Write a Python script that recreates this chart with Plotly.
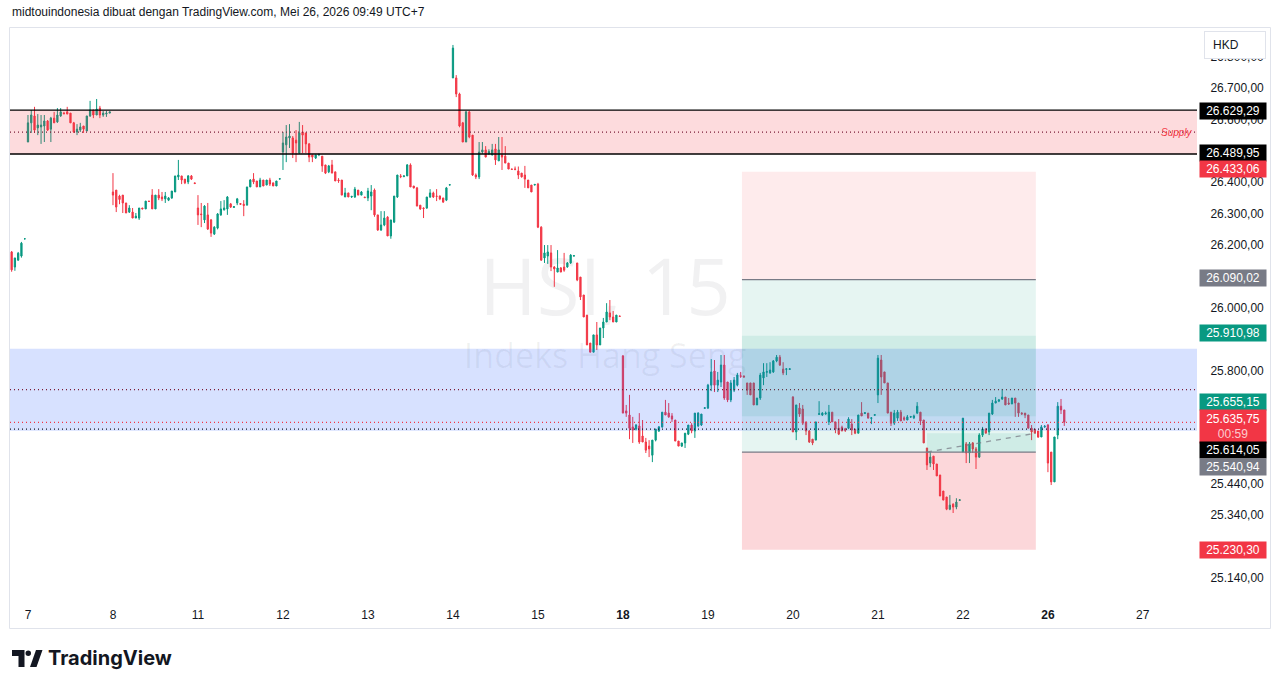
import plotly.graph_objects as go

# ---------------- data ----------------
day_labels = ["7", "8", "11", "12", "13", "14", "15", "<b>18</b>", "19", "20", "21", "22", "<b>26</b>", "27"]
day_tick_pos = [5, 31, 57, 83, 109, 135, 161, 187, 213, 239, 265, 291, 317, 346]

opens = [
    26178, 26130, 26152, 26165, 26220,
    # 7
    26528, 26589, 26611, 26573, 26576, 26579, 26595, 26569, 26604, 26592, 26611, 26620, 26624, 26620, 26589, 26560, 26566, 26579, 26563, 26611, 26630, 26614, 26636, 26614, 26617, 26620,
    # 8
    26369, 26375, 26356, 26359, 26334, 26305, 26305, 26286, 26286, 26318, 26315, 26340, 26359, 26315, 26359, 26353, 26347, 26343, 26350, 26369, 26417, 26420, 26410, 26401, 26420, 26398,
    # 11
    26318, 26299, 26280, 26296, 26280, 26235, 26254, 26296, 26312, 26315, 26331, 26320, 26334, 26332, 26330, 26327, 26385, 26410, 26404, 26385, 26407, 26391, 26407, 26398, 26388, 26410,
    # 12
    26496, 26519, 26541, 26541, 26534, 26493, 26560, 26557, 26522, 26487, 26477, 26487, 26483, 26455, 26433, 26455, 26433, 26407, 26407, 26353, 26366, 26353, 26353, 26375, 26359, 26353,
    # 13
    26350, 26356, 26375, 26296, 26248, 26264, 26289, 26229, 26273, 26353, 26420, 26418, 26420, 26455, 26388, 26382, 26327, 26318, 26318, 26353, 26366, 26356, 26356, 26350, 26343, 26391,
    # 14
    26732, 26732, 26681, 26589, 26528, 26624, 26550, 26423, 26417, 26496, 26503, 26490, 26487, 26506, 26468, 26487, 26483, 26461, 26442, 26442, 26436, 26429, 26423, 26407, 26391, 26391,
    # 15
    26394, 26257, 26159, 26165, 26175, 26130, 26114, 26127, 26130, 26130, 26143, 26165, 26143, 26098, 26041, 25977, 25888, 25859, 25914, 25882, 25936, 25955, 25984, 25971, 25955, 25974,
    # 18
    25847, 25672, 25659, 25621, 25614, 25624, 25592, 25573, 25560, 25531, 25579, 25608, 25621, 25668, 25665, 25656, 25643, 25576, 25560, 25570, 25598, 25627, 25608, 25624, 25627, 25680,
    # 19
    25681, 25754, 25799, 25754, 25764, 25818, 25764, 25707, 25738, 25754, 25784, 25783, 25761, 25761, 25761, 25691, 25713, 25777, 25795, 25793, 25796, 25831, 25843, 25805, 25804, 25804,
    # 20
    25716, 25605, 25681, 25678, 25637, 25608, 25582, 25579, 25661, 25659, 25662, 25637, 25668, 25637, 25617, 25620, 25615, 25617, 25630, 25614, 25601, 25665, 25664, 25665, 25648, 25658,
    # 21
    25723, 25834, 25796, 25761, 25668, 25633, 25649, 25668, 25650, 25643, 25652, 25650, 25665, 25668, 25643, 25554, 25506, 25528, 25503, 25468, 25417, 25398, 25359, 25375, 25366, 25387,
    # 22
    25541, 25567, 25538, 25570, 25551, 25525, 25595, 25614, 25605, 25662, 25697, 25703, 25710, 25716, 25697, 25694, 25713, 25697, 25665, 25665, 25659, 25617, 25614, 25608, 25589, 25621,
    # 26
    25627, 25541, 25446, 25595, 25687, 25675,
]
highs = [
    26181, 26159, 26178, 26210, 26222,
    26614, 26630, 26640, 26617, 26614, 26614, 26598, 26608, 26624, 26636, 26636, 26624, 26640, 26620, 26592, 26585, 26589, 26579, 26611, 26659, 26630, 26665, 26643, 26627, 26627, 26624,
    26429, 26375, 26360, 26359, 26334, 26327, 26318, 26302, 26318, 26318, 26340, 26340, 26378, 26359, 26378, 26369, 26369, 26353, 26372, 26420, 26471, 26420, 26410, 26423, 26423, 26398,
    26359, 26334, 26327, 26334, 26283, 26260, 26302, 26340, 26343, 26356, 26334, 26324, 26350, 26333, 26343, 26385, 26410, 26429, 26404, 26414, 26407, 26407, 26414, 26398, 26404, 26412,
    26560, 26582, 26585, 26547, 26566, 26592, 26582, 26557, 26525, 26487, 26487, 26490, 26483, 26455, 26455, 26471, 26433, 26413, 26407, 26382, 26366, 26356, 26385, 26375, 26372, 26353,
    26382, 26391, 26380, 26296, 26308, 26308, 26292, 26280, 26356, 26423, 26426, 26422, 26458, 26460, 26388, 26385, 26327, 26320, 26353, 26378, 26370, 26378, 26358, 26350, 26385, 26393,
    26837, 26741, 26685, 26592, 26627, 26627, 26550, 26428, 26528, 26528, 26515, 26505, 26522, 26522, 26544, 26544, 26515, 26461, 26443, 26450, 26450, 26429, 26452, 26407, 26391, 26394,
    26398, 26260, 26200, 26200, 26200, 26133, 26184, 26130, 26175, 26146, 26171, 26168, 26143, 26098, 26041, 25977, 25888, 25914, 25955, 25936, 25968, 26015, 26025, 25990, 25977, 25975,
    25850, 25691, 25723, 25653, 25630, 25665, 25643, 25586, 25579, 25579, 25614, 25624, 25668, 25707, 25697, 25665, 25643, 25576, 25570, 25601, 25627, 25633, 25665, 25668, 25662, 25684,
    25758, 25837, 25834, 25796, 25850, 25850, 25764, 25770, 25780, 25793, 25796, 25785, 25761, 25761, 25761, 25713, 25793, 25824, 25824, 25827, 25834, 25850, 25850, 25827, 25807, 25807,
    25719, 25691, 25697, 25691, 25637, 25611, 25582, 25637, 25703, 25668, 25670, 25691, 25668, 25637, 25646, 25625, 25618, 25652, 25646, 25614, 25659, 25700, 25668, 25665, 25651, 25661,
    25850, 25850, 25796, 25761, 25668, 25675, 25675, 25675, 25655, 25659, 25656, 25660, 25700, 25668, 25643, 25554, 25541, 25528, 25503, 25468, 25417, 25398, 25404, 25378, 25394, 25390,
    25649, 25573, 25573, 25573, 25557, 25601, 25621, 25617, 25665, 25707, 25716, 25710, 25742, 25716, 25713, 25713, 25713, 25697, 25668, 25665, 25659, 25627, 25614, 25608, 25627, 25627,
    25630, 25541, 25589, 25700, 25710, 25675,
]
lows = [
    26115, 26118, 26150, 26160, 26218,
    26528, 26557, 26557, 26550, 26522, 26528, 26563, 26528, 26589, 26589, 26608, 26617, 26617, 26589, 26557, 26550, 26560, 26557, 26563, 26608, 26604, 26614, 26604, 26608, 26608, 26620,
    26327, 26305, 26330, 26302, 26302, 26302, 26286, 26286, 26280, 26315, 26315, 26337, 26315, 26315, 26343, 26340, 26334, 26340, 26347, 26369, 26407, 26394, 26394, 26394, 26407, 26394,
    26264, 26257, 26270, 26248, 26226, 26232, 26250, 26293, 26310, 26296, 26318, 26318, 26327, 26329, 26292, 26327, 26385, 26394, 26385, 26385, 26388, 26391, 26388, 26388, 26388, 26409,
    26439, 26464, 26509, 26477, 26464, 26490, 26493, 26493, 26464, 26464, 26474, 26483, 26433, 26426, 26429, 26429, 26404, 26398, 26359, 26353, 26353, 26350, 26350, 26359, 26359, 26350,
    26340, 26311, 26290, 26245, 26245, 26260, 26229, 26220, 26270, 26350, 26413, 26416, 26420, 26385, 26380, 26324, 26312, 26286, 26315, 26350, 26350, 26340, 26343, 26334, 26340, 26390,
    26732, 26671, 26575, 26528, 26528, 26540, 26420, 26410, 26410, 26490, 26480, 26488, 26485, 26455, 26468, 26439, 26461, 26442, 26440, 26438, 26410, 26415, 26382, 26382, 26369, 26390,
    26254, 26150, 26143, 26140, 26117, 26067, 26114, 26114, 26115, 26128, 26140, 26164, 26085, 26025, 25971, 25882, 25859, 25859, 25866, 25882, 25904, 25955, 25961, 25955, 25955, 25972,
    25665, 25653, 25582, 25570, 25610, 25567, 25573, 25538, 25525, 25509, 25575, 25605, 25618, 25659, 25650, 25637, 25576, 25560, 25557, 25554, 25595, 25601, 25586, 25620, 25624, 25679,
    25678, 25735, 25732, 25732, 25748, 25707, 25700, 25700, 25732, 25750, 25777, 25778, 25723, 25723, 25691, 25691, 25707, 25754, 25780, 25790, 25793, 25827, 25815, 25786, 25786, 25803,
    25605, 25579, 25653, 25627, 25595, 25570, 25563, 25579, 25659, 25656, 25660, 25627, 25637, 25601, 25595, 25608, 25605, 25614, 25595, 25598, 25601, 25656, 25662, 25649, 25630, 25657,
    25697, 25723, 25761, 25665, 25624, 25627, 25640, 25640, 25640, 25643, 25650, 25646, 25662, 25627, 25570, 25484, 25493, 25484, 25465, 25401, 25388, 25356, 25356, 25347, 25359, 25386,
    25541, 25506, 25506, 25538, 25487, 25522, 25589, 25601, 25595, 25659, 25697, 25700, 25707, 25691, 25691, 25694, 25653, 25653, 25659, 25649, 25617, 25579, 25601, 25586, 25589, 25618,
    25477, 25436, 25446, 25582, 25662, 25624,
]
closes = [
    26121, 26159, 26174, 26206, 26220,
    26589, 26614, 26566, 26582, 26582, 26595, 26566, 26604, 26589, 26614, 26624, 26618, 26617, 26589, 26560, 26569, 26576, 26569, 26611, 26630, 26614, 26633, 26614, 26620, 26620, 26624,
    26359, 26321, 26345, 26334, 26302, 26318, 26286, 26292, 26318, 26315, 26340, 26339, 26315, 26359, 26350, 26347, 26356, 26350, 26372, 26420, 26423, 26407, 26398, 26420, 26410, 26396,
    26296, 26297, 26324, 26251, 26238, 26257, 26299, 26315, 26318, 26353, 26321, 26322, 26347, 26330, 26326, 26385, 26407, 26401, 26385, 26407, 26388, 26407, 26394, 26388, 26404, 26411,
    26525, 26544, 26547, 26493, 26525, 26557, 26550, 26522, 26480, 26480, 26487, 26489, 26452, 26429, 26452, 26429, 26404, 26405, 26359, 26366, 26353, 26355, 26378, 26359, 26369, 26351,
    26372, 26369, 26296, 26248, 26264, 26286, 26229, 26280, 26356, 26423, 26418, 26420, 26455, 26385, 26382, 26324, 26315, 26316, 26353, 26366, 26353, 26355, 26347, 26337, 26382, 26392,
    26827, 26681, 26579, 26528, 26624, 26544, 26423, 26417, 26496, 26503, 26480, 26498, 26503, 26471, 26503, 26480, 26461, 26442, 26441, 26441, 26423, 26417, 26410, 26382, 26369, 26393,
    26257, 26152, 26175, 26178, 26130, 26124, 26127, 26114, 26120, 26143, 26168, 26166, 26089, 26035, 25971, 25882, 25859, 25914, 25882, 25936, 25955, 25987, 25971, 25955, 25977, 25973,
    25665, 25665, 25617, 25611, 25627, 25573, 25573, 25547, 25551, 25579, 25614, 25621, 25668, 25659, 25653, 25646, 25576, 25560, 25570, 25601, 25627, 25608, 25665, 25665, 25662, 25682,
    25754, 25796, 25754, 25770, 25818, 25713, 25707, 25761, 25770, 25786, 25782, 25780, 25738, 25723, 25691, 25713, 25786, 25796, 25797, 25802, 25831, 25843, 25818, 25793, 25806, 25806,
    25605, 25691, 25662, 25633, 25608, 25573, 25570, 25637, 25663, 25665, 25665, 25668, 25637, 25614, 25598, 25608, 25610, 25646, 25611, 25601, 25659, 25656, 25666, 25649, 25650, 25660,
    25840, 25780, 25761, 25665, 25633, 25665, 25668, 25640, 25645, 25653, 25654, 25656, 25687, 25640, 25570, 25500, 25525, 25503, 25465, 25401, 25388, 25359, 25372, 25366, 25382, 25389,
    25649, 25538, 25567, 25551, 25525, 25595, 25614, 25601, 25665, 25697, 25703, 25707, 25716, 25691, 25694, 25713, 25697, 25665, 25663, 25659, 25617, 25605, 25601, 25589, 25621, 25623,
    25506, 25446, 25589, 25687, 25675, 25635.75,
]

# drawn levels
supply_top, supply_bot = 26629.29, 26489.95
demand_top, demand_bot = 25870.0, 25609.0
short_stop, short_entry, short_target = 26433.06, 26090.02, 25655.15
long_target, long_entry, long_stop = 25910.98, 25540.94, 25230.30
last_price, prev_close = 25635.75, 25614.05
tool_x0, tool_x1, trigger_x = 223.4, 313.3, 280.0
tool_last_close = 25601.0

# axis ticks (the ones fully hidden behind the price labels are left out)
price_ticks = [26800, 26700, 26600, 26400, 26300, 26200, 26000, 25800,
               25440, 25340, 25140]

# ---------------- figure ----------------
W, H = 1281, 688
LM, RM, TM, BM = 10, 84, 28, 88
PW, PH = W - LM - RM, H - TM - BM


def px(x):
    return (x - LM) / PW


def py(y):
    return (H - BM - y) / PH


UP, DN = "#089981", "#F23645"
TXT = "#131722"
FONT = "Liberation Sans"

x_idx = list(range(len(opens)))

fig = go.Figure(go.Candlestick(
    x=x_idx, open=opens, high=highs, low=lows, close=closes,
    increasing=dict(line=dict(color=UP, width=1), fillcolor=UP),
    decreasing=dict(line=dict(color=DN, width=1), fillcolor=DN),
    whiskerwidth=0, hoverinfo="skip",
))

fig.update_layout(
    width=W, height=H, margin=dict(l=LM, r=RM, t=TM, b=BM, pad=0),
    paper_bgcolor="white", plot_bgcolor="white", showlegend=False,
    separators=",.", boxgap=0.45,
    font=dict(family=FONT, size=12, color=TXT),
    xaxis=dict(range=[-0.5, 362.6], rangeslider=dict(visible=False), showgrid=False,
               zeroline=False, showline=False, tickmode="array", tickvals=day_tick_pos,
               ticktext=day_labels, ticks="outside", ticklen=4, tickcolor="rgba(0,0,0,0)",
               tickfont=dict(family=FONT, size=12, color=TXT), fixedrange=True),
    yaxis=dict(range=[25070, 26891], side="right", showgrid=False, zeroline=False,
               showline=False, tickmode="array", tickvals=price_ticks, tickformat=",.2f",
               ticks="outside", ticklen=10, tickcolor="rgba(0,0,0,0)",
               tickfont=dict(family=FONT, size=12, color=TXT), fixedrange=True),
)

shapes = []
# watermark (below candles)
shapes.append(dict(type="rect", xref="paper", yref="paper", x0=px(380), x1=px(830),
                   y0=py(330), y1=py(250), line=dict(width=0), fillcolor="rgba(0,0,0,0)",
                   layer="below",
                   label=dict(text="HSI, 15", textposition="middle center",
                              font=dict(family="Open Sans", size=78, color="rgba(19,23,34,0.06)"))))
shapes.append(dict(type="rect", xref="paper", yref="paper", x0=px(380), x1=px(830),
                   y0=py(380), y1=py(334), line=dict(width=0), fillcolor="rgba(0,0,0,0)",
                   layer="below",
                   label=dict(text="Indeks Hang Seng", textposition="middle center",
                              font=dict(family="Open Sans", size=34, color="rgba(19,23,34,0.06)"))))

# supply zone
shapes.append(dict(type="rect", xref="paper", yref="y", x0=0, x1=1, y0=supply_bot, y1=supply_top,
                   line=dict(width=0), fillcolor="rgba(242,54,69,0.18)", layer="above"))
for lvl in (supply_top, supply_bot):
    shapes.append(dict(type="line", xref="paper", yref="y", x0=0, x1=1, y0=lvl, y1=lvl,
                       line=dict(color="#000000", width=1.3), layer="above"))
shapes.append(dict(type="line", xref="paper", yref="y", x0=0, x1=1,
                   y0=(supply_top + supply_bot) / 2, y1=(supply_top + supply_bot) / 2,
                   line=dict(color="#7a1b36", width=1.3, dash="1px,3px"), layer="above"))

# demand (blue) zone
shapes.append(dict(type="rect", xref="paper", yref="y", x0=0, x1=1, y0=demand_bot, y1=demand_top,
                   line=dict(width=0), fillcolor="rgba(41,98,255,0.19)", layer="above"))
shapes.append(dict(type="line", xref="paper", yref="y", x0=0, x1=1,
                   y0=(demand_top + demand_bot) / 2, y1=(demand_top + demand_bot) / 2,
                   line=dict(color="#7a1b36", width=1.3, dash="1px,3px"), layer="above"))

# short position tool
shapes.append(dict(type="rect", xref="x", yref="y", x0=tool_x0, x1=tool_x1, y0=short_entry, y1=short_stop,
                   line=dict(width=0), fillcolor="rgba(242,54,69,0.10)", layer="above"))
shapes.append(dict(type="rect", xref="x", yref="y", x0=tool_x0, x1=tool_x1, y0=short_target, y1=short_entry,
                   line=dict(width=0), fillcolor="rgba(8,153,129,0.10)", layer="above"))
# long position tool
shapes.append(dict(type="rect", xref="x", yref="y", x0=tool_x0, x1=tool_x1, y0=long_entry, y1=long_target,
                   line=dict(width=0), fillcolor="rgba(8,153,129,0.10)", layer="above"))
shapes.append(dict(type="rect", xref="x", yref="y", x0=tool_x0, x1=tool_x1, y0=long_stop, y1=long_entry,
                   line=dict(width=0), fillcolor="rgba(242,54,69,0.20)", layer="above"))
shapes.append(dict(type="rect", xref="x", yref="y", x0=trigger_x, x1=tool_x1, y0=long_entry, y1=tool_last_close,
                   line=dict(width=0), fillcolor="rgba(8,153,129,0.10)", layer="above"))
for lvl in (short_entry, long_entry):
    shapes.append(dict(type="line", xref="x", yref="y", x0=tool_x0, x1=tool_x1, y0=lvl, y1=lvl,
                       line=dict(color="#787b86", width=1.3), layer="above"))
shapes.append(dict(type="line", xref="x", yref="y", x0=trigger_x, x1=tool_x1, y0=long_entry,
                   y1=tool_last_close, line=dict(color="rgba(120,123,134,0.75)", width=1.3, dash="5px,5px"),
                   layer="above"))

# price lines
shapes.append(dict(type="line", xref="paper", yref="y", x0=0, x1=1, y0=last_price, y1=last_price,
                   line=dict(color=DN, width=1.3, dash="1px,3px"), layer="above"))
shapes.append(dict(type="line", xref="paper", yref="y", x0=0, x1=1, y0=prev_close, y1=prev_close,
                   line=dict(color="#131722", width=1.3, dash="1px,3px"), layer="above"))

# container border
shapes.append(dict(type="rect", xref="paper", yref="paper", x0=px(9.5), x1=px(1270.5),
                   y0=py(628.5), y1=py(27.5), line=dict(color="#e0e3eb", width=1),
                   fillcolor="rgba(0,0,0,0)", layer="above"))

# TradingView logo
logo_col = "#131722"
shapes.append(dict(type="path", xref="paper", yref="paper",
                   path="M {} {} L {} {} L {} {} L {} {} L {} {} L {} {} Z".format(
                       px(12), py(650), px(24.5), py(650), px(24.5), py(667),
                       px(18.5), py(667), px(18.5), py(656), px(12), py(656)),
                   fillcolor=logo_col, line=dict(width=0)))
shapes.append(dict(type="circle", xref="paper", yref="paper", x0=px(25.5), x1=px(31), y0=py(656),
                   y1=py(650.5), fillcolor=logo_col, line=dict(width=0)))
shapes.append(dict(type="path", xref="paper", yref="paper",
                   path="M {} {} L {} {} L {} {} L {} {} Z".format(
                       px(30), py(667), px(36), py(650), px(42.5), py(650), px(36.5), py(667)),
                   fillcolor=logo_col, line=dict(width=0)))

fig.update_layout(shapes=shapes)

ann = []
# header
ann.append(dict(xref="paper", yref="paper", x=px(10), y=py(12), xanchor="left", yanchor="middle",
                text="midtouindonesia dibuat dengan TradingView.com, Mei 26, 2026 09:49 UTC+7",
                showarrow=False, font=dict(family=FONT, size=12, color=TXT)))
# supply text
ann.append(dict(xref="paper", yref="y", x=px(1195), y=(supply_top + supply_bot) / 2, xanchor="right",
                yanchor="middle", text="<i>Supply</i>", showarrow=False,
                font=dict(family=FONT, size=10, color=DN)))
# HKD box
ann.append(dict(xref="paper", yref="paper", x=px(1235), y=py(45), xanchor="center", yanchor="middle",
                text="HKD", showarrow=False, width=44, height=10, borderpad=8, align="left",
                bgcolor="white", bordercolor="#e0e3eb", borderwidth=1,
                font=dict(family=FONT, size=12, color=TXT)))


def price_label(val, bg, shift=0, text=None, height=16):
    if text is None:
        text = "{:,.2f}".format(val).replace(",", "X").replace(".", ",").replace("X", ".")
    return dict(xref="paper", yref="y", x=px(1233), y=val, yshift=shift, xanchor="center",
                yanchor="middle", text=text, showarrow=False, bgcolor=bg, width=66, height=height,
                borderpad=0, font=dict(family=FONT, size=12, color="white"))


ann.append(price_label(supply_top, "#000000", -1))
ann.append(price_label(supply_bot, "#000000", 1))
ann.append(price_label(short_stop, DN, 3))
ann.append(price_label(short_entry, "#787b86", 2))
ann.append(price_label(long_target, UP, 3))
ann.append(price_label(short_target, UP, 14))
ann.append(price_label(last_price, DN, -4, height=33,
                       text="25.635,75<br><span style='color:rgba(255,255,255,0.75)'>00:59</span>"))
ann.append(price_label(prev_close, "#000000", -21))
ann.append(price_label(long_entry, "#787b86", -15))
ann.append(price_label(long_stop, DN, 0))

# TradingView wordmark
ann.append(dict(xref="paper", yref="paper", x=px(46), y=py(658), xanchor="left", yanchor="middle",
                text="<b>TradingView</b>", showarrow=False,
                font=dict(family="Inter", size=20, color=logo_col)))

fig.update_layout(annotations=ann)

fig.write_html("out.html")
